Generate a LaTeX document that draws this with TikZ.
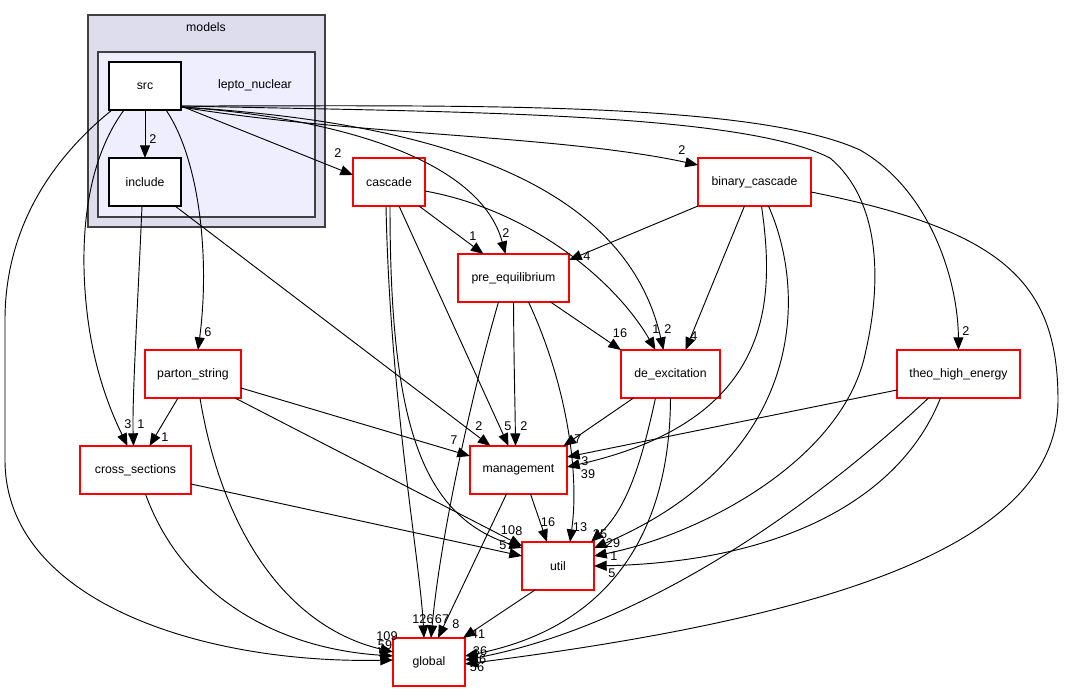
\documentclass[tikz,border=0pt]{standalone}
\usepackage{fontspec}
\setmainfont{Liberation Sans}
\usetikzlibrary{arrows.meta,calc}
\definecolor{outerfill}{HTML}{DDDDEE}
\definecolor{innerfill}{HTML}{EEEEFF}
\definecolor{clusterline}{HTML}{404040}
\definecolor{dirred}{HTML}{FF0000}
\begin{document}
\begin{tikzpicture}[x=0.75pt,y=-0.75pt,
  txt/.style={font=\fontsize{9.2}{11}\selectfont},
  dirbox/.style={draw=dirred, fill=white, line width=0.9pt, minimum height=36pt, inner sep=0pt, txt},
  subbox/.style={draw=black, fill=white, line width=0.9pt, minimum width=54pt, minimum height=36pt, inner sep=0pt, txt},
  dep/.style={-{Triangle[length=9.5pt,width=7.5pt]}, line width=0.7pt, black},
  lbl/.style={font=\fontsize{9.5}{10}\selectfont, inner sep=0pt}]
\useasboundingbox (0,0) rectangle (1065,692);

% clusters
\node[draw=clusterline, fill=outerfill, line width=1.2pt, minimum width=177.75pt, minimum height=159pt, inner sep=0pt] (models) at (206.5,121) {};
\node[txt] (modelslbl) at (206,27) {models};
\node[draw=clusterline, fill=innerfill, line width=1.2pt, minimum width=162.75pt, minimum height=123.75pt, inner sep=0pt] (lepto) at (206.5,134.5) {};
\node[txt] (leptolbl) at (255,85) {lepto\_nuclear};

% nodes
\node[subbox] (src) at (145,86) {src};
\node[subbox] (include) at (145,182) {include};
\node[dirbox, minimum width=54pt] (cascade) at (389,182) {cascade};
\node[dirbox, minimum width=84.75pt] (binary_cascade) at (754.5,182) {binary\_cascade};
\node[dirbox, minimum width=83.25pt] (pre_equilibrium) at (513.5,278) {pre\_equilibrium};
\node[dirbox, minimum width=74.25pt] (de_excitation) at (670.5,374) {de\_excitation};
\node[dirbox, minimum width=72pt] (parton_string) at (193,374) {parton\_string};
\node[dirbox, minimum width=92.25pt] (theo_high_energy) at (958.5,374) {theo\_high\_energy};
\node[dirbox, minimum width=83.25pt] (cross_sections) at (135.5,470) {cross\_sections};
\node[dirbox, minimum width=72.75pt] (management) at (518.5,470) {management};
\node[dirbox, minimum width=54pt] (util) at (558,566) {util};
\node[dirbox, minimum width=54pt] (global) at (429,662) {global};

% edges from src
\draw[dep] ($(src)+(0,24)$) -- ($(include)+(0,-24)$);
\draw[dep] ($(src)+(36,20)$) -- ($(cascade)+(-36,-7)$);
\draw[dep] ($(src)+(36,21)$) .. controls (340,118) and (480,160) .. ($(pre_equilibrium)+(-8,-24)$);
\draw[dep] ($(src)+(36,21)$) .. controls (350,135) and (560,135) .. ($(binary_cascade)+(-56.5,-17)$);
\draw[dep] ($(src)+(36,21)$) .. controls (430,122) and (625,180) .. ($(de_excitation)+(-7,-24)$);
\draw[dep] ($(src)+(36,20)$) .. controls (450,106) and (750,100) .. (860,150) .. controls (930,190) and (958,280) .. ($(theo_high_energy)+(0,-24)$);
\draw[dep] ($(src)+(36,20)$) .. controls (450,112) and (740,112) .. (830,158) .. controls (880,200) and (882,280) .. (866,350) .. controls (845,460) and (700,535) .. ($(util)+(36,-10)$);
\draw[dep] ($(src)+(-33,24)$) .. controls (50,160) and (5,230) .. (5,320) -- (5,460) .. controls (5,600) and (200,664) .. ($(global)+(-36,-2)$);
\draw[dep] ($(src)+(-21,24)$) .. controls (80,170) and (80,260) .. (88,320) .. controls (96,380) and (115,420) .. ($(cross_sections)+(-8,-24)$);
\draw[dep] ($(src)+(21,24)$) .. controls (200,160) and (210,260) .. ($(parton_string)+(5,-24)$);

% include
\draw[dep] ($(include)+(-3,24)$) .. controls (138,300) and (132,400) .. ($(cross_sections)+(-2,-24)$);
\draw[dep] ($(include)+(30,24)$) -- ($(management)+(-28,-24)$);

% cascade
\draw[dep] ($(cascade)+(30,24)$) -- ($(pre_equilibrium)+(-30,-24)$);
\draw[dep] ($(cascade)+(36,9)$) .. controls (530,210) and (615,280) .. ($(de_excitation)+(-15,-24)$);
\draw[dep] ($(cascade)+(10,24)$) -- ($(management)+(-10,-24)$);
\draw[dep] ($(cascade)+(-3,24)$) .. controls (390,400) and (420,560) .. ($(global)+(-5,-24)$);
\draw[dep] ($(cascade)+(1,24)$) .. controls (390,420) and (420,515) .. ($(util)+(-36,-18)$);

% pre_equilibrium
\draw[dep] ($(pre_equilibrium)+(37,24)$) -- ($(de_excitation)+(-49.5,-24)$);
\draw[dep] ($(pre_equilibrium)+(0,24)$) .. controls (514,370) and (515,400) .. ($(management)+(-3,-24)$);
\draw[dep] ($(pre_equilibrium)+(15,24)$) .. controls (565,380) and (580,470) .. ($(util)+(12,-24)$);
\draw[dep] ($(pre_equilibrium)+(-15,24)$) .. controls (470,400) and (440,540) .. ($(global)+(2,-24)$);

% binary_cascade
\draw[dep] ($(binary_cascade)+(-56.5,24)$) -- ($(pre_equilibrium)+(55.5,-18)$);
\draw[dep] ($(binary_cascade)+(-10,24)$) -- ($(de_excitation)+(15,-24)$);
\draw[dep] ($(binary_cascade)+(7,24)$) .. controls (775,300) and (775,420) .. ($(management)+(48.5,-3)$);
\draw[dep] ($(binary_cascade)+(14,24)$) .. controls (810,300) and (800,460) .. ($(util)+(36,-18)$);
\draw[dep] ($(binary_cascade)+(56.5,10)$) .. controls (1000,230) and (1058,280) .. (1058,400) .. controls (1058,540) and (850,615) .. ($(global)+(36,2)$);

% de_excitation
\draw[dep] ($(de_excitation)+(-37,24)$) -- ($(management)+(45,-24)$);
\draw[dep] ($(de_excitation)+(-15,24)$) .. controls (640,470) and (625,510) .. ($(util)+(33,-24)$);
\draw[dep] ($(de_excitation)+(0,24)$) .. controls (670,520) and (620,625) .. ($(global)+(36,-6)$);

% theo_high_energy
\draw[dep] ($(theo_high_energy)+(-61.5,16)$) -- ($(management)+(48.5,-13)$);
\draw[dep] ($(theo_high_energy)+(-18,24)$) .. controls (900,500) and (780,562) .. ($(util)+(36,0)$);
\draw[dep] ($(theo_high_energy)+(-30,24)$) .. controls (820,500) and (650,625) .. ($(global)+(36,-2)$);

% parton_string
\draw[dep] ($(parton_string)+(-15,24)$) -- ($(cross_sections)+(14,-24)$);
\draw[dep] ($(parton_string)+(48,14)$) -- ($(management)+(-48.5,-14)$);
\draw[dep] ($(parton_string)+(42,24)$) -- ($(util)+(-36,-20)$);
\draw[dep] ($(parton_string)+(7,24)$) .. controls (220,520) and (280,625) .. ($(global)+(-36,-10)$);

% cross_sections
\draw[dep] ($(cross_sections)+(55.5,14)$) -- ($(util)+(-36,-10)$);
\draw[dep] ($(cross_sections)+(10,24)$) .. controls (180,590) and (270,648) .. ($(global)+(-36,-6)$);

% management, util
\draw[dep] ($(management)+(12,24)$) -- ($(util)+(-11,-24)$);
\draw[dep] ($(management)+(-12,24)$) -- ($(global)+(9,-24)$);
\draw[dep] ($(util)+(-23,24)$) -- ($(global)+(34,-24)$);

% labels
\node[lbl] (l1) at (153,139) {2};
\node[lbl] (l2) at (338,153) {2};
\node[lbl] (l3) at (506,233) {2};
\node[lbl] (l4) at (682,150) {2};
\node[lbl] (l5) at (668,329) {2};
\node[lbl] (l6) at (966,331) {2};
\node[lbl] (l7) at (614,556) {1};
\node[lbl] (l8) at (387,636) {109};
\node[lbl] (l8b) at (385,645) {59};
\node[lbl] (l8c) at (382,653) {5};
\node[lbl] (l9) at (128,424) {3};
\node[lbl] (l10) at (208,332) {6};
\node[lbl] (l11) at (141,424) {1};
\node[lbl] (l12) at (479,426) {2};
\node[lbl] (l13) at (473,236) {1};
\node[lbl] (l14) at (656,329) {1};
\node[lbl] (l15) at (508,426) {5};
\node[lbl] (l16) at (423,619) {126};
\node[lbl] (l16b) at (442,619) {67};
\node[lbl] (l17) at (508,530) {10};
\node[lbl] (l17b) at (519,531) {8};
\node[lbl] (l18) at (620,333) {16};
\node[lbl] (l19) at (524,426) {2};
\node[lbl] (l20) at (580,527) {13};
\node[lbl] (l21) at (456,624) {8};
\node[lbl] (l22) at (587,256) {4};
\node[lbl] (l23) at (694,336) {4};
\node[lbl] (l24) at (585,461) {3};
\node[lbl] (l25) at (588,474) {39};
\node[lbl] (l26) at (613,543) {29};
\node[lbl] (l27) at (600,534) {25};
\node[lbl] (l28) at (578,439) {7};
\node[lbl] (l29) at (612,573) {5};
\node[lbl] (l30) at (480,651) {36};
\node[lbl] (l30b) at (479,659) {26};
\node[lbl] (l31) at (477,667) {56};
\node[lbl] (l32) at (165,437) {1};
\node[lbl] (l33) at (454,440) {7};
\node[lbl] (l34) at (503,545) {5};
\node[lbl] (l35) at (548,522) {16};
\node[lbl] (l36) at (478,634) {41};
\end{tikzpicture}
\end{document}
